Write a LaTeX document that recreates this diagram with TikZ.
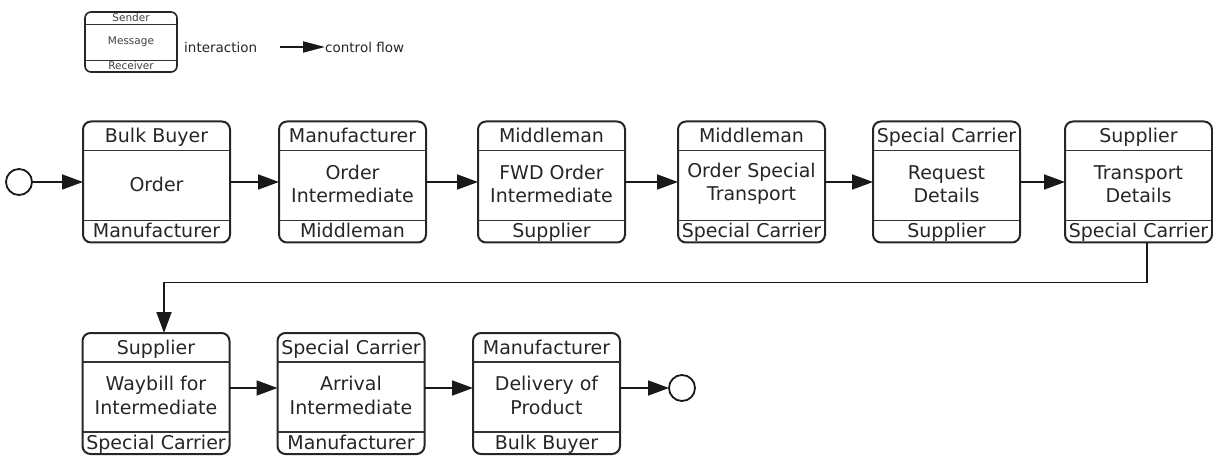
\documentclass[tikz,border=0pt]{standalone}
\usepackage{fontspec}
\setmainfont{DejaVu Sans}
\usetikzlibrary{arrows.meta,calc}
\newcommand{\interbox}[5]{%
  \node[msg] (#1) at (#2) {};
  \draw[sep] ($(#1.north west)+(0,29)$) -- ($(#1.north east)+(0,29)$);
  \draw[sep] ($(#1.south west)+(0,-22)$) -- ($(#1.south east)+(0,-22)$);
  \node[role,anchor=base] (#1s) at ($(#1.north)+(0,21.5)$) {#3};
  \node[body] (#1m) at ($(#1.center)+(0,2)$) {#4};
  \node[role,anchor=base] (#1r) at ($(#1.south)+(0,-5)$) {#5};
}
\begin{document}
\begin{tikzpicture}[x=1pt,y=-1pt,
  msg/.style={draw=black!85,line width=2pt,rounded corners=8pt,minimum width=147pt,minimum height=121pt,inner sep=0pt,outer sep=0pt},
  sep/.style={draw=black!80,line width=1.2pt},
  role/.style={font=\fontsize{19}{22}\selectfont,inner sep=0pt,text=black!85},
  body/.style={font=\fontsize{19}{23.5}\selectfont,align=center,inner sep=0pt,text=black!85},
  flow/.style={draw=black!90,line width=1.8pt,-{Triangle[length=21pt,width=15pt]}},
  term/.style={circle,draw=black!90,line width=1.8pt,minimum size=26pt,inner sep=0pt,outer sep=0pt},
  lgbox/.style={draw=black!85,line width=1.6pt,rounded corners=6pt,minimum width=92pt,minimum height=60pt,inner sep=0pt,outer sep=0pt},
  lgtext/.style={font=\fontsize{10.5}{12}\selectfont,inner sep=0pt,text=black!75},
  lglabel/.style={font=\fontsize{13.5}{16}\selectfont,inner sep=0pt,text=black!85,anchor=west}
]
\useasboundingbox (0,0) rectangle (1213,457);

% legend
\node[lgbox] (lg) at (131,42) {};
\draw[sep,line width=1pt] ($(lg.north west)+(0,13)$) -- ($(lg.north east)+(0,13)$);
\draw[sep,line width=1pt] ($(lg.south west)+(0,-11)$) -- ($(lg.south east)+(0,-11)$);
\node[lgtext,anchor=base] (lgs) at ($(lg.north)+(0,10)$) {Sender};
\node[lgtext] (lgm) at ($(lg.center)+(0,0)$) {Message};
\node[lgtext,anchor=base] (lgr) at ($(lg.south)+(0,-2)$) {Receiver};
\node[lglabel] (lgi) at (184,47) {interaction};
\coordinate (la) at (280,47);
\node[lglabel] (lgc) at (325,47) {control flow};
\draw[draw=black!90,line width=1.8pt,-{Triangle[length=22pt,width=11pt]}] (la) -- (lgc.west);

% row 1
\node[term] (start) at (19,182) {};
\interbox{b1}{156.5,182}{Bulk Buyer}{Order}{Manufacturer}
\interbox{b2}{352.5,182}{Manufacturer}{Order\\Intermediate}{Middleman}
\interbox{b3}{551.5,182}{Middleman}{FWD Order\\Intermediate}{Supplier}
\interbox{b4}{751.5,182}{Middleman}{Order Special\\Transport}{Special Carrier}
\interbox{b5}{946.5,182}{Special Carrier}{Request\\Details}{Supplier}
\interbox{b6}{1138.5,182}{Supplier}{Transport\\Details}{Special Carrier}

% row 2
\interbox{b7}{156,393.5}{Supplier}{Waybill for\\Intermediate}{Special Carrier}
\interbox{b8}{351,393.5}{Special Carrier}{Arrival\\Intermediate}{Manufacturer}
\interbox{b9}{546.5,393.5}{Manufacturer}{Delivery of\\Product}{Bulk Buyer}
\node[term] (end) at (682,388) {};

% flows
\draw[flow] (start) -- (b1);
\draw[flow] (b1) -- (b2);
\draw[flow] (b2) -- (b3);
\draw[flow] (b3) -- (b4);
\draw[flow] (b4) -- (b5);
\draw[flow] (b5) -- (b6);
\draw[flow] ($(b6.south)+(8.5,0)$) -- ++(0,40) -| ($(b7.north)+(8,0)$);
\draw[flow] ([yshift=5.5pt]b7.east) -- ([yshift=5.5pt]b8.west);
\draw[flow] ([yshift=5.5pt]b8.east) -- ([yshift=5.5pt]b9.west);
\draw[flow] ([yshift=5.5pt]b9.east) -- (end);
\end{tikzpicture}
\end{document}
